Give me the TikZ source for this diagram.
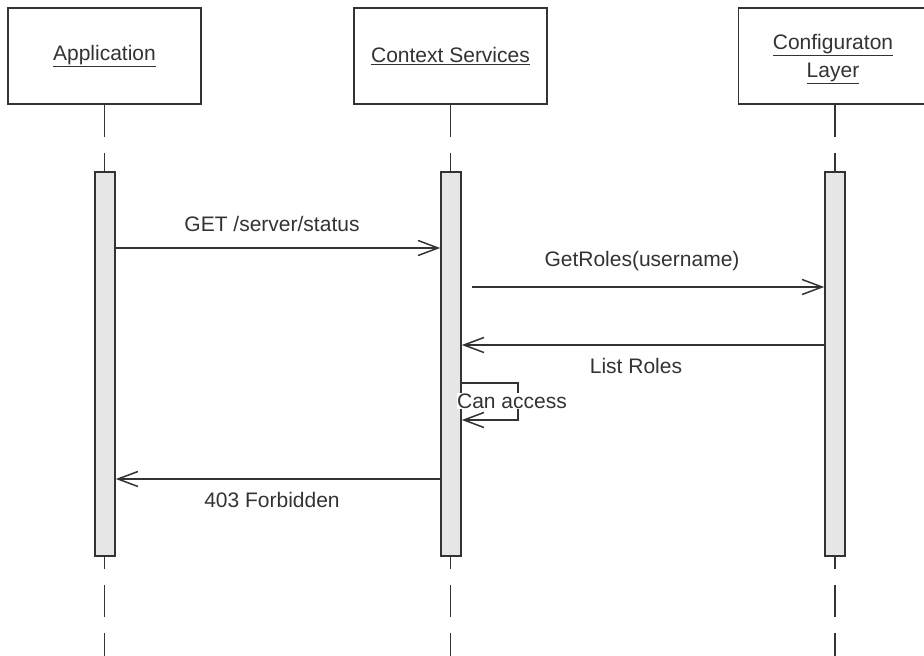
\documentclass[tikz,border=0pt]{standalone}
\usepackage{fontspec}
\setmainfont{Liberation Sans}
\usetikzlibrary{arrows.meta}
\definecolor{ink}{HTML}{333333}
\definecolor{barfill}{HTML}{E6E6E6}
\begin{document}
\begin{tikzpicture}[x=1pt,y=-1pt,
  every node/.style={font=\fontsize{21}{26}\selectfont, text=ink},
  objbox/.style={draw=ink, line width=1.6pt, fill=white, minimum width=193pt, minimum height=96pt, inner sep=0pt, align=center},
  actbar/.style={draw=ink, line width=1.6pt, fill=barfill, minimum width=20pt, minimum height=384pt, inner sep=0pt},
  lifeline/.style={draw=ink, line width=1.6pt, dash pattern=on 32pt off 16pt},
  msg/.style={draw=ink, line width=1.5pt, -{Straight Barb[length=20pt,width=15pt,line width=1.5pt]}},
  msglabel/.style={inner sep=1pt},
]
\clip (0,0) rectangle (924,656);
\fill[white] (0,0) rectangle (924,656);

% objects
\node[objbox] (app) at (104.5,56) {\underline{Application}};
\node[objbox] (ctx) at (450.5,56) {\underline{Context Services}};
\node[objbox] (cfg) at (835,56) {};
\node[align=center, inner sep=0pt] (cfgtxt) at (833,59) {\underline{Configuraton}\\[1.5pt]\underline{Layer}};

% lifelines
\coordinate (bottom) at (0,664);
\draw[lifeline] (app.south) -- (app.south |- bottom);
\draw[lifeline] (ctx.south) -- (ctx.south |- bottom);
\draw[lifeline] (cfg.south) -- (cfg.south |- bottom);

% activation bars
\node[actbar] (b1) at (105,364) {};
\node[actbar] (b2) at (451,364) {};
\node[actbar] (b3) at (835,364) {};

% message rows
\coordinate (r1) at (0,248);
\coordinate (r2) at (0,287);
\coordinate (r3) at (0,345);
\coordinate (s1) at (0,383);
\coordinate (s2) at (0,420);
\coordinate (r4) at (0,479);

\draw[msg] (b1.east |- r1) -- (b2.west |- r1);
\node[msglabel] (l1) at (272,224) {GET /server/status};

\draw[msg, shorten <=10pt] (b2.east |- r2) -- (b3.west |- r2);
\node[msglabel] (l2) at (642,261) {GetRoles(username)};

\draw[msg] (b3.west |- r3) -- (b2.east |- r3);
\node[msglabel] (l3) at (636,366) {List Roles};

\draw[msg] (b2.east |- s1) -- ++(56,0) -- ++(0,37) -- (b2.east |- s2);
\node[msglabel, fill=white, inner sep=0.5pt] (l4) at (512,401) {Can access};

\draw[msg] (b2.west |- r4) -- (b1.east |- r4);
\node[msglabel] (l5) at (272,500) {403 Forbidden};
\end{tikzpicture}
\end{document}
